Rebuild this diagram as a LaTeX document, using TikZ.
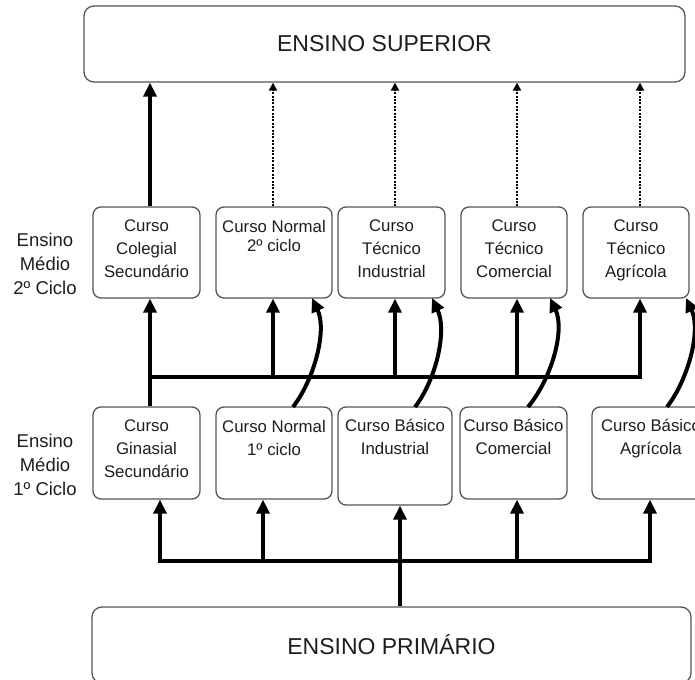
\documentclass[tikz,border=0pt]{standalone}
\usepackage{fontspec}
\setmainfont{Liberation Sans}
\usetikzlibrary{arrows.meta}
\definecolor{boxgray}{RGB}{85,85,85}
\definecolor{txtcol}{RGB}{30,30,30}
\begin{document}
\begin{tikzpicture}[x=1pt,y=-1pt,
  box/.style={draw=boxgray, line width=1.3pt, rounded corners=8pt, inner sep=0pt, fill=white},
  bigbox/.style={box, rounded corners=10pt, text=txtcol, font=\fontsize{23}{28}\selectfont},
  lbl/.style={text=txtcol, font=\fontsize{16.8}{23}\selectfont, align=center, anchor=north, inner sep=0pt},
  side/.style={text=txtcol, font=\fontsize{18.5}{24}\selectfont, align=center, inner sep=0pt},
  tip/.tip={Triangle[length=14pt,width=13pt]},
  thickarrow/.style={line width=4pt, -tip},
  dotarrow/.style={line width=2pt, dash pattern=on 2pt off 1.4pt, -{Triangle[length=8pt,width=8pt]}},
]
\useasboundingbox (0,0) rectangle (695,679);
\clip (0,0) rectangle (695,679);

% big boxes
\node[bigbox, minimum width=601pt, minimum height=76pt] (sup) at (384.5,44) {ENSINO SUPERIOR};
\node[bigbox, minimum width=599pt, minimum height=76pt] (prim) at (391.5,645) {ENSINO PRIMÁRIO};

% level 2 boxes
\node[box, minimum width=107pt, minimum height=91pt] (c21) at (146.5,252.5) {};
\node[box, minimum width=116pt, minimum height=91pt] (c22) at (274,252.5) {};
\node[box, minimum width=107pt, minimum height=91pt] (c23) at (391.5,252.5) {};
\node[box, minimum width=106pt, minimum height=91pt] (c24) at (514,252.5) {};
\node[box, minimum width=106pt, minimum height=91pt] (c25) at (636,252.5) {};

% level 1 boxes
\node[box, minimum width=107pt, minimum height=92pt] (c11) at (146.5,453) {};
\node[box, minimum width=116pt, minimum height=92pt] (c12) at (274,453) {};
\node[box, minimum width=114pt, minimum height=98pt] (c13) at (395,456) {};
\node[box, minimum width=107pt, minimum height=92pt] (c14) at (513.5,453) {};
\node[box, minimum width=118pt, minimum height=92pt] (c15) at (651,453) {};

% texts level 2
\node[lbl] (t21) at (146.5,220) {Curso\\Colegial\\Secundário};
\node[lbl] (t22) at (274,220) {Curso Normal\\[-4pt]2º ciclo};
\node[lbl] (t23) at (391.5,220) {Curso\\Técnico\\Industrial};
\node[lbl] (t24) at (514,220) {Curso\\Técnico\\Comercial};
\node[lbl] (t25) at (636,220) {Curso\\Técnico\\Agrícola};

% texts level 1
\node[lbl] (t11) at (146.5,420) {Curso\\Ginasial\\Secundário};
\node[lbl] (t12) at (274,420) {Curso Normal\\1º ciclo};
\node[lbl] (t13) at (395,419) {Curso Básico\\Industrial};
\node[lbl] (t14) at (513.5,419) {Curso Básico\\Comercial};
\node[lbl] (t15) at (651,419) {Curso Básico\\Agrícola};

% side labels
\node[side] (s2) at (45,264) {Ensino\\Médio\\2º Ciclo};
\node[side] (s1) at (45,465) {Ensino\\Médio\\1º Ciclo};

% x positions
\coordinate (k1) at (150,0);
\coordinate (k2) at (273,0);
\coordinate (k3) at (395,0);
\coordinate (k4) at (517,0);
\coordinate (k5) at (640,0);
\coordinate (m1) at (160,0);
\coordinate (m2) at (263,0);
\coordinate (m3) at (400,0);
\coordinate (m4) at (517,0);
\coordinate (m5) at (650,0);
\coordinate (barL) at (150,377);
\coordinate (barR) at (640,377);
\coordinate (bbR) at (650,561);

% to superior
\draw[thickarrow] (c21.north -| k1) -- (sup.south -| k1);
\foreach \n/\k in {c22/k2,c23/k3,c24/k4,c25/k5}
  \draw[dotarrow] (\n.north -| \k) -- (sup.south -| \k);

% middle bar
\draw[thickarrow] (c11.north -| k1) -- (c21.south -| k1);
\draw[thickarrow, line join=miter] (barL) -| (c25.south -| k5);
\foreach \n/\k in {c22/k2,c23/k3,c24/k4}
  \draw[thickarrow] (barL -| \k) -- (\n.south -| \k);

% curved connectors
\draw[thickarrow] (293,407) .. controls +(22,-29) and +(15,32) .. (312,298);
\draw[thickarrow] (415,407) .. controls +(22,-29) and +(15,32) .. (432,298);
\draw[thickarrow] (528,407) .. controls +(24,-29) and +(15,32) .. (550,298);
\draw[thickarrow] (667,407) .. controls +(22,-29) and +(15,32) .. (686,298);

% bottom bar
\draw[line width=4pt, line join=miter, tip-tip] (c11.south -| m1) |- (bbR) -- (c15.south -| m5);
\foreach \n/\k in {c12/m2,c14/m4}
  \draw[thickarrow] (bbR -| \k) -- (\n.south -| \k);
\draw[thickarrow] (prim.north -| m3) -- (c13.south -| m3);
\end{tikzpicture}
\end{document}
